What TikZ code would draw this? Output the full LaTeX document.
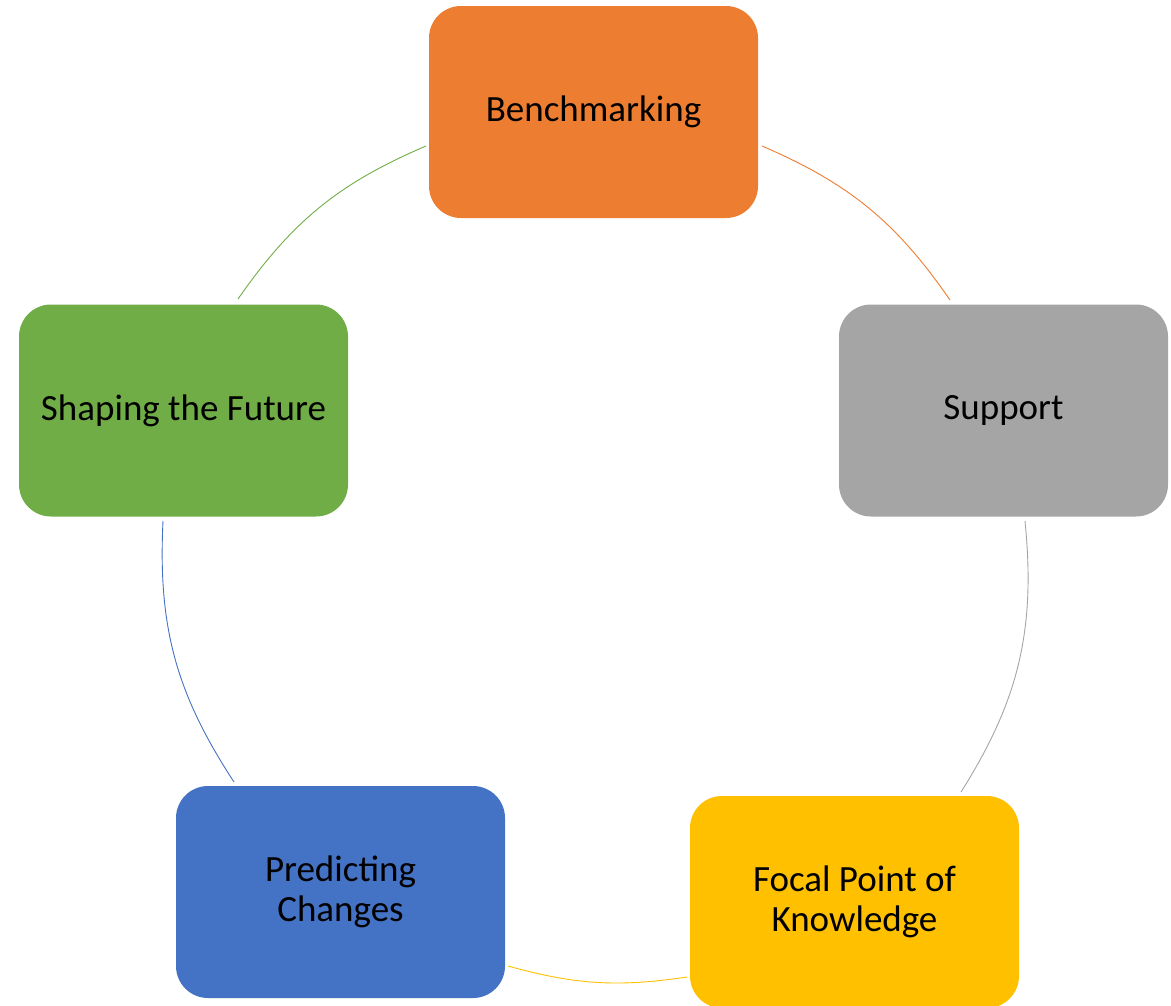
\documentclass[tikz,border=0pt]{standalone}
\usepackage{fontspec}
\setmainfont{Carlito}
\definecolor{benchorange}{HTML}{ED7D31}
\definecolor{supportgray}{HTML}{A5A5A5}
\definecolor{focalgold}{HTML}{FFC000}
\definecolor{predictblue}{HTML}{4472C4}
\definecolor{shapegreen}{HTML}{70AD47}
\begin{document}
\begin{tikzpicture}[x=1pt, y=-1pt,
    box/.style={rectangle, rounded corners=32pt, minimum width=329pt,
      minimum height=212pt, inner sep=0pt, align=center,
      font=\fontsize{37}{40}\selectfont}]
    \useasboundingbox (0,0) rectangle (1171,1005);
    \node[box, fill=benchorange] (bench) at (593.5,112) {Benchmarking};
    \node[box, fill=supportgray] (support) at (1003.5,410.5) {Support};
    \node[box, fill=focalgold] (focal) at (854.5,902) {Focal Point of\\Knowledge};
    \node[box, fill=predictblue] (predict) at (340.5,892) {Predicting\\Changes};
    \node[box, fill=shapegreen] (shape) at (183.5,410.5) {Shaping the Future};
    % arc ends, just off the boxes
    \coordinate (bench-out) at (762,146);
    \coordinate (support-in) at (950,300);
    \coordinate (support-out) at (1025,521);
    \coordinate (focal-in) at (961,792);
    \coordinate (focal-out) at (687,977);
    \coordinate (predict-in) at (508,966);
    \coordinate (predict-out) at (234,782);
    \coordinate (shape-in) at (163,521);
    \coordinate (shape-out) at (238,299);
    \coordinate (bench-in) at (426,146);
    \draw[line width=0.9pt]
    (bench-out) edge[benchorange, bend left=16] (support-in)
    (support-out) edge[supportgray, bend left=19] (focal-in)
    (focal-out) edge[focalgold, bend left=12] (predict-in)
    (predict-out) edge[predictblue, bend left=18] (shape-in)
    (shape-out) edge[shapegreen, bend left=16] (bench-in)
;

\end{tikzpicture}
\end{document}
